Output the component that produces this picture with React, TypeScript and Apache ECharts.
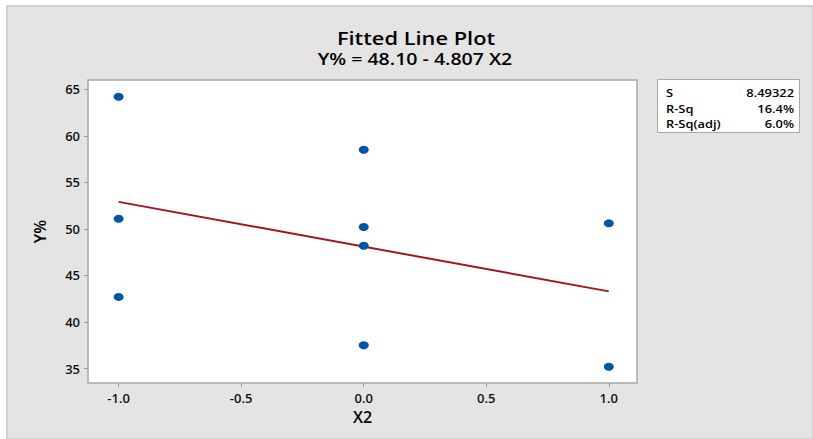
import React, { useEffect, useRef } from "react";
import * as echarts from "echarts";

const xTicks = [-1, -0.5, 0, 0.5, 1];
const yTicks = [35, 40, 45, 50, 55, 60, 65];
const pointX = [-1, -1, -1, 0, 0, 0, 0, 1, 1];
const pointY = [64.2, 51.1, 42.7, 58.5, 50.2, 48.2, 37.5, 50.6, 35.2];
const fitX = [-1, 1];
const fitY = [52.907, 43.293];
const statLabels = ["S", "R-Sq", "R-Sq(adj)"];
const statValues = ["8.49322", "16.4%", "6.0%"];

const FONT = "'Open Sans', 'Noto Sans', sans-serif";

export default function App() {
  const ref = useRef<HTMLDivElement>(null);
  useEffect(() => {
    if (!ref.current) return;
    const chart = echarts.init(ref.current, null, { renderer: "svg" });
    const statGraphics: any[] = [];
    statLabels.forEach((l, i) => {
      statGraphics.push({
        type: "text",
        x: 666,
        y: 93 + i * 15.6,
        scaleX: 1.12,
        style: { text: l, font: `600 11.5px ${FONT}`, fill: "#000", verticalAlign: "middle", lineHeight: 13 },
      });
      statGraphics.push({
        type: "text",
        x: 794,
        y: 93 + i * 15.6,
        scaleX: 1.12,
        style: { text: statValues[i], font: `600 11.5px ${FONT}`, fill: "#000", textAlign: "right", verticalAlign: "middle", lineHeight: 13 },
      });
    });
    chart.setOption({
      animation: false,
      backgroundColor: "#ffffff",
      textStyle: { fontFamily: FONT },
      graphic: [
        {
          type: "rect",
          shape: { x: 7, y: 6, width: 806, height: 433 },
          style: { fill: "#e4e4e4", stroke: "#d2d2d2", lineWidth: 2 },
          z: -10,
        },
        {
          type: "text",
          x: 416,
          y: 37.5,
          scaleX: 1.18,
          style: { text: "Fitted Line Plot", font: `600 18.5px ${FONT}`, fill: "#000", textAlign: "center", verticalAlign: "middle" },
        },
        {
          type: "text",
          x: 415,
          y: 58.5,
          scaleX: 1.15,
          style: { text: "Y% = 48.10 - 4.807 X2", font: `600 17px ${FONT}`, fill: "#000", textAlign: "center", verticalAlign: "middle" },
        },
        {
          type: "rect",
          shape: { x: 657.5, y: 79.5, width: 142, height: 53 },
          style: { fill: "#ffffff", stroke: "#a8a8a8", lineWidth: 1 },
        },
        ...statGraphics,
      ],
      grid: {
        show: true,
        left: 88,
        top: 80,
        right: 176,
        bottom: 56,
        backgroundColor: "#ffffff",
        borderColor: "#a8a8a8",
        borderWidth: 1.5,
      },
      xAxis: {
        type: "value",
        min: -1.125,
        max: 1.115,
        name: "X2",
        nameLocation: "middle",
        nameGap: 26,
        nameTextStyle: { fontSize: 16, fontWeight: 600, color: "#000", fontFamily: FONT },
        axisLine: { show: false, onZero: false },
        splitLine: { show: false },
        axisTick: { show: true, length: 4, lineStyle: { color: "#999" }, customValues: xTicks },
        axisLabel: {
          customValues: xTicks,
          formatter: (v: number) => v.toFixed(1),
          fontSize: 13,
          fontWeight: 600,
          color: "#111",
          margin: 8,
          fontFamily: FONT,
        },
      },
      yAxis: {
        type: "value",
        min: 33.45,
        max: 66,
        name: "Y%",
        nameLocation: "middle",
        nameGap: 40,
        nameRotate: 90,
        nameTextStyle: { fontSize: 16, fontWeight: 600, color: "#000", fontFamily: FONT },
        axisLine: { show: false, onZero: false },
        splitLine: { show: false },
        axisTick: { show: true, length: 4, lineStyle: { color: "#999" }, customValues: yTicks },
        axisLabel: {
          customValues: yTicks,
          fontSize: 13,
          fontWeight: 600,
          color: "#111",
          margin: 8,
          fontFamily: FONT,
        },
      },
      series: [
        {
          type: "line",
          data: fitX.map((x, i) => [x, fitY[i]]),
          showSymbol: false,
          lineStyle: { color: "#a3151b", width: 2 },
          z: 2,
        },
        {
          type: "scatter",
          data: pointX.map((x, i) => [x, pointY[i]]),
          symbol: "circle",
          symbolSize: [10, 8],
          itemStyle: { color: "#0055a5", opacity: 1 },
          z: 3,
        },
      ],
    });
    return () => chart.dispose();
  }, []);
  return (
    <div
      ref={ref}
      style={{ position: "absolute", left: 0, top: 0, width: 813, height: 439 }}
    />
  );
}
